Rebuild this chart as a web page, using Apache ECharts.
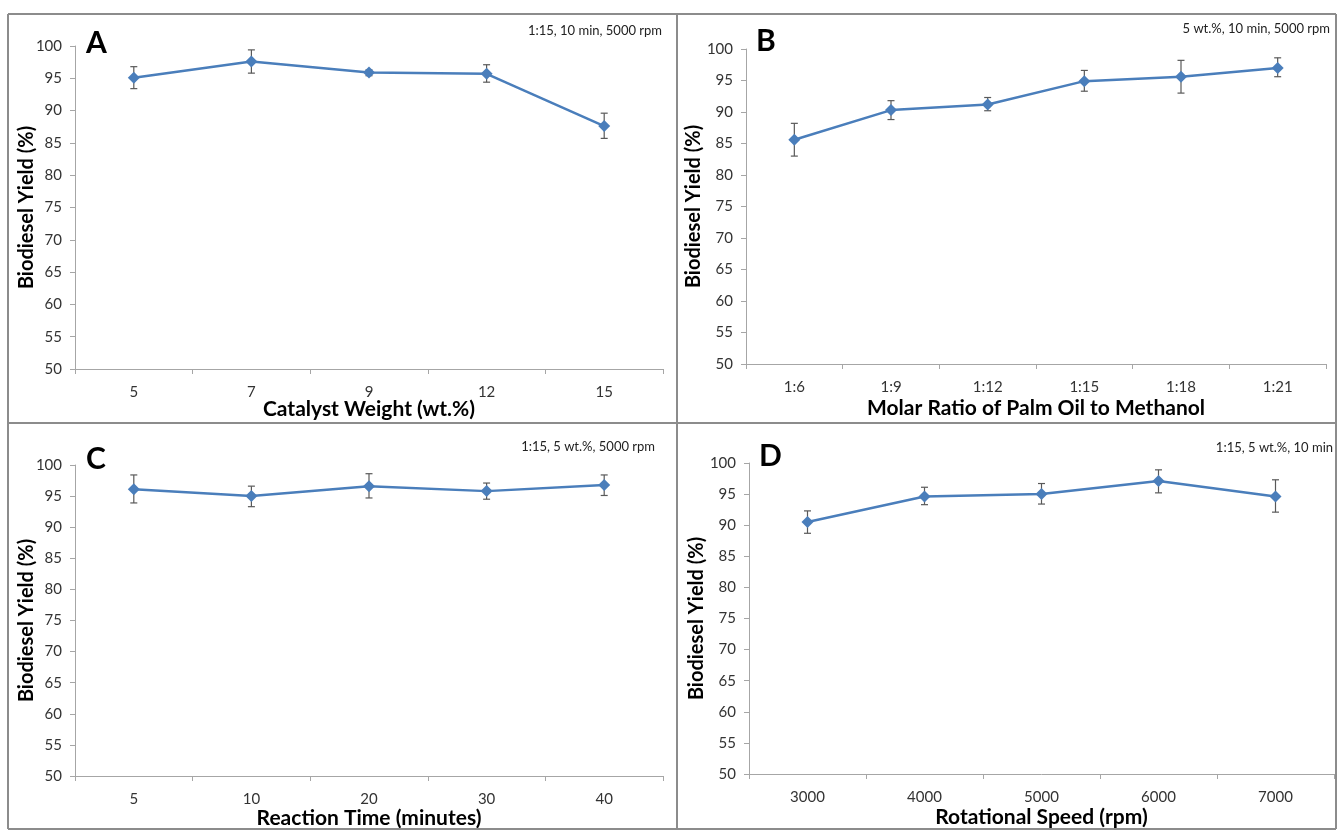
<!DOCTYPE html>
<html>
<head>
<meta charset="utf-8">
<script src="https://cdn.jsdelivr.net/npm/echarts@6/dist/echarts.min.js"></script>
<style>html,body{margin:0;padding:0;background:#fff}#c{width:1337px;height:830px}</style>
</head>
<body>
<div id="c"></div>
<script>
// ---- data ----
const catA = ['5', '7', '9', '12', '15'];
const valA = [95.1, 97.6, 95.9, 95.7, 87.6];
const loA  = [93.4, 95.8, 95.4, 94.4, 85.7];
const hiA  = [96.8, 99.4, 96.3, 97.1, 89.6];

const catB = ['1:6', '1:9', '1:12', '1:15', '1:18', '1:21'];
const valB = [85.6, 90.3, 91.2, 94.9, 95.6, 97.0];
const loB  = [83.0, 88.8, 90.2, 93.3, 93.0, 95.6];
const hiB  = [88.2, 91.8, 92.3, 96.6, 98.2, 98.6];

const catC = ['5', '10', '20', '30', '40'];
const valC = [96.1, 95.0, 96.6, 95.8, 96.8];
const loC  = [93.9, 93.3, 94.7, 94.5, 95.1];
const hiC  = [98.4, 96.6, 98.6, 97.1, 98.4];

const catD = ['3000', '4000', '5000', '6000', '7000'];
const valD = [90.5, 94.6, 95.0, 97.1, 94.6];
const loD  = [88.7, 93.3, 93.4, 95.2, 92.1];
const hiD  = [92.3, 96.1, 96.7, 98.9, 97.3];

const xTitles = ['Catalyst Weight (wt.%)', 'Molar Ratio of Palm Oil to Methanol', 'Reaction Time (minutes)', 'Rotational Speed (rpm)'];
const yTitle = 'Biodiesel Yield (%)';
const letters = ['A', 'B', 'C', 'D'];
const notes = ['1:15, 10 min, 5000 rpm', '5 wt.%, 10 min, 5000 rpm', '1:15, 5 wt.%, 5000 rpm', '1:15, 5 wt.%, 10 min'];

// ---- layout ----
const panels = [
  {cat: catA, val: valA, lo: loA, hi: hiA, grid: {left: 75, top: 46, width: 588, height: 323}, xt: 409, yx: 27, lx: 86, ly: 28, nx: 662, ny: 24},
  {cat: catB, val: valB, lo: loB, hi: hiB, grid: {left: 746, top: 49, width: 580, height: 315}, xt: 408, yx: 694, lx: 756, ly: 26, nx: 1330, ny: 22},
  {cat: catC, val: valC, lo: loC, hi: hiC, grid: {left: 75, top: 465, width: 588, height: 311}, xt: 818, yx: 27, lx: 86, ly: 444, nx: 655, ny: 440},
  {cat: catD, val: valD, lo: loD, hi: hiD, grid: {left: 749, top: 463, width: 585, height: 311}, xt: 817, yx: 697, lx: 759, ly: 441, nx: 1333, ny: 441}
];
const blue = '#4a7ebb';
const axisGrey = '#a6a6a6';
const tickFont = {fontFamily: 'Lato', fontSize: 15, color: '#333'};

const grids = [], xAxes = [], yAxes = [], series = [], graphics = [];
panels.forEach((p, i) => {
  grids.push(Object.assign({containLabel: false}, p.grid));
  xAxes.push({
    type: 'category', gridIndex: i, data: p.cat, boundaryGap: true,
    axisLine: {lineStyle: {color: axisGrey, width: 1}},
    axisTick: {show: true, alignWithLabel: false, length: 5, lineStyle: {color: axisGrey}},
    axisLabel: Object.assign({margin: 16}, tickFont),
    splitLine: {show: false}
  });
  yAxes.push({
    type: 'value', gridIndex: i, min: 50, max: 100, interval: 5,
    axisLine: {show: true, lineStyle: {color: axisGrey, width: 1}},
    axisTick: {show: true, length: 5, lineStyle: {color: axisGrey}},
    axisLabel: Object.assign({margin: 13}, tickFont),
    splitLine: {show: false}
  });
  series.push({
    type: 'custom', xAxisIndex: i, yAxisIndex: i, z: 1,
    data: p.lo.map((l, k) => [k, l, p.hi[k]]),
    renderItem: function (params, api) {
      const k = api.value(0);
      const a = api.coord([k, api.value(1)]);
      const b = api.coord([k, api.value(2)]);
      const w = 3.5;
      const st = {stroke: '#595959', lineWidth: 1.2};
      return {type: 'group', children: [
        {type: 'line', shape: {x1: a[0], y1: a[1], x2: b[0], y2: b[1]}, style: st},
        {type: 'line', shape: {x1: a[0] - w, y1: a[1], x2: a[0] + w, y2: a[1]}, style: st},
        {type: 'line', shape: {x1: b[0] - w, y1: b[1], x2: b[0] + w, y2: b[1]}, style: st}
      ]};
    }
  });
  series.push({
    type: 'line', xAxisIndex: i, yAxisIndex: i, z: 3, data: p.val,
    symbol: 'diamond', symbolSize: 12, showSymbol: true,
    lineStyle: {color: blue, width: 2.5},
    itemStyle: {color: blue},
    animation: false
  });
  graphics.push({
    type: 'text', x: p.grid.left + p.grid.width / 2, y: p.xt,
    style: {text: xTitles[i], font: 'bold 21px Lato', fill: '#000', textAlign: 'center', textVerticalAlign: 'middle'}
  });
  graphics.push({
    type: 'text', x: p.yx, y: p.grid.top + p.grid.height / 2, rotation: Math.PI / 2,
    style: {text: yTitle, font: 'bold 20px Lato', fill: '#000', textAlign: 'center', textVerticalAlign: 'middle'}
  });
  graphics.push({
    type: 'text', x: p.lx, y: p.ly,
    style: {text: letters[i], font: 'bold 30px Lato', fill: '#000'}
  });
  graphics.push({
    type: 'text', x: p.nx, y: p.ny,
    style: {text: notes[i], font: '13px Lato', fill: '#222', textAlign: 'right'}
  });
});

// panel borders
const bc = '#8c8c8c';
[[8, 14, 1336, 14], [8, 14, 8, 829], [1336, 14, 1336, 829], [8, 829, 1336, 829], [677, 14, 677, 829], [8, 423, 1336, 423]].forEach(l => {
  graphics.push({type: 'line', shape: {x1: l[0], y1: l[1], x2: l[2], y2: l[3]}, style: {stroke: bc, lineWidth: 2}, z: 0});
});

const chart = echarts.init(document.getElementById('c'), null, {renderer: 'canvas'});
chart.setOption({
  animation: false,
  backgroundColor: '#fff',
  grid: grids, xAxis: xAxes, yAxis: yAxes, series: series,
  graphic: graphics
});
</script>
</body>
</html>
